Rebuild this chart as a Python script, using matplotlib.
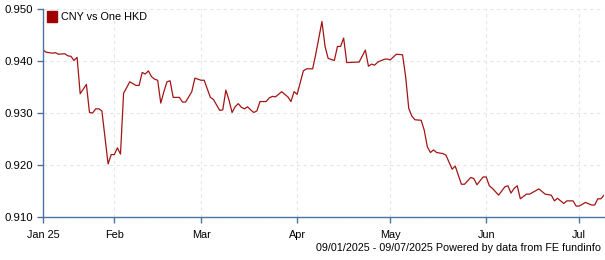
import datetime as dt
import matplotlib
matplotlib.use("Agg")
import matplotlib.pyplot as plt
from matplotlib.patches import Patch

plt.rcParams["font.family"] = ["Liberation Sans", "DejaVu Sans"]

# day offsets from 09/01/2025 and CNY per one HKD
start = dt.date(2025, 1, 9)
day_offsets = [
    0, 1, 3, 4, 5, 7, 8, 9, 10, 11, 12, 14, 15, 16, 17, 18, 19, 21, 22, 23,
    24, 25, 26, 28, 30, 31, 32, 33, 34, 35, 36, 37, 38, 39, 40, 41, 42, 44,
    45, 46, 48, 49, 51, 52, 54, 55, 57, 58, 59, 60, 61, 62, 63, 64, 65, 66,
    67, 68, 69, 70, 72, 73, 74, 75, 77, 78, 79, 80, 81, 82, 84, 85, 87, 88,
    90, 91, 92, 94, 95, 96, 97, 98, 102, 104, 105, 106, 107, 108, 110, 111,
    112, 114, 116, 117, 118, 119, 120, 122, 123, 124, 125, 126, 127, 129,
    130, 132, 133, 135, 136, 138, 139, 140, 142, 143, 144, 145, 147, 149,
    150, 151, 152, 153, 154, 156, 157, 160, 162, 164, 165, 166, 168, 169,
    171, 172, 173, 175, 177, 178, 179, 180, 181,
]
rates = [
    0.9421, 0.9417, 0.9415, 0.9416, 0.9413, 0.9414, 0.9410, 0.9409, 0.9401,
    0.9407, 0.9337, 0.9355, 0.9301, 0.9300, 0.9308, 0.9308, 0.9304, 0.9202,
    0.9220, 0.9220, 0.9233, 0.9221, 0.9338, 0.9360, 0.9353, 0.9353, 0.9378,
    0.9375, 0.9381, 0.9370, 0.9365, 0.9363, 0.9319, 0.9341, 0.9360, 0.9362,
    0.9330, 0.9330, 0.9321, 0.9321, 0.9341, 0.9367, 0.9363, 0.9363, 0.9330,
    0.9326, 0.9305, 0.9306, 0.9344, 0.9325, 0.9301, 0.9312, 0.9318, 0.9311,
    0.9308, 0.9312, 0.9306, 0.9301, 0.9304, 0.9322, 0.9322, 0.9329, 0.9332,
    0.9331, 0.9341, 0.9336, 0.9331, 0.9322, 0.9341, 0.9336, 0.9381, 0.9385,
    0.9385, 0.9413, 0.9476, 0.9428, 0.9405, 0.9401, 0.9428, 0.9428, 0.9444,
    0.9397, 0.9398, 0.9421, 0.9390, 0.9394, 0.9392, 0.9398, 0.9403, 0.9404,
    0.9402, 0.9413, 0.9412, 0.9370, 0.9309, 0.9294, 0.9287, 0.9286, 0.9267,
    0.9235, 0.9224, 0.9229, 0.9224, 0.9222, 0.9219, 0.9192, 0.9198, 0.9163,
    0.9163, 0.9176, 0.9174, 0.9162, 0.9177, 0.9177, 0.9160, 0.9155, 0.9142,
    0.9158, 0.9160, 0.9146, 0.9155, 0.9160, 0.9135, 0.9144, 0.9144, 0.9154,
    0.9144, 0.9142, 0.9131, 0.9136, 0.9126, 0.9131, 0.9131, 0.9121, 0.9121,
    0.9128, 0.9123, 0.9123, 0.9135, 0.9135, 0.9142,
]
dates = [start + dt.timedelta(days=d) for d in day_offsets]

tick_dates = [dt.date(2025, 1, 9), dt.date(2025, 2, 1), dt.date(2025, 3, 1),
              dt.date(2025, 4, 1), dt.date(2025, 5, 1), dt.date(2025, 6, 1),
              dt.date(2025, 7, 1)]
tick_labels = ["Jan 25", "Feb", "Mar", "Apr", "May", "Jun", "Jul"]
y_ticks = [0.910, 0.920, 0.930, 0.940, 0.950]

line_colour = "#a31515"
axis_colour = "#4d74a0"
fs = 7.8

fig = plt.figure(figsize=(6.05, 2.60), dpi=100)
ax = fig.add_axes([43 / 605, 1 - 217 / 260, 561 / 605, 208 / 260])

ax.plot(dates, rates, color=line_colour, lw=0.9)

ax.set_xlim(dt.date(2025, 1, 9), dt.date(2025, 7, 9))
ax.set_ylim(0.910, 0.950)
ax.set_xticks(tick_dates)
ax.set_xticklabels(tick_labels)
ax.set_yticks(y_ticks)
ax.set_yticklabels([f"{v:.3f}" for v in y_ticks])

# spines
for side in ["top", "right"]:
    ax.spines[side].set_visible(False)
for side in ["left", "bottom"]:
    ax.spines[side].set_color(axis_colour)
    ax.spines[side].set_linewidth(1.0)
ax.tick_params(axis="both", colors=axis_colour, labelcolor="black",
               labelsize=fs, length=4, width=1.0, direction="out")
ax.tick_params(axis="x", pad=5)
ax.tick_params(axis="y", pad=3, labelsize=8.2)

ax.grid(True, color="#e6e6e6", linestyle=(0, (3, 3)), linewidth=0.8)
ax.set_axisbelow(True)

# legend
handle = Patch(facecolor="#a00000", edgecolor="#a00000")
ax.legend([handle], ["CNY vs One HKD"], loc="upper left", frameon=False,
          fontsize=fs, handlelength=0.9, handleheight=1.1, handletextpad=0.4,
          borderaxespad=0.0, bbox_to_anchor=(0.0, 1.01))

fig.text(601 / 605, 1 - 248 / 260,
         "09/01/2025 - 09/07/2025 Powered by data from FE fundinfo",
         ha="right", va="center", fontsize=7.75)

fig.savefig("out.png", dpi=100)
